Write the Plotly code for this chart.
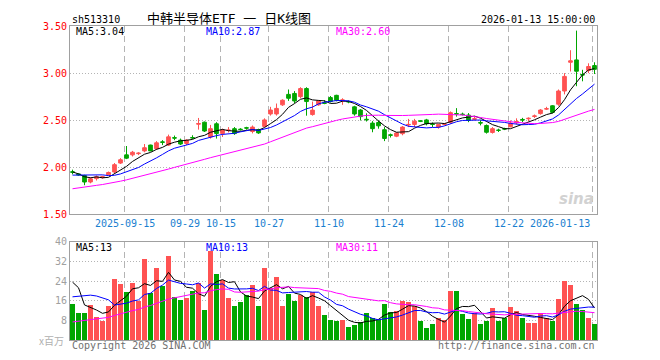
import plotly.graph_objects as go
import pandas as pd

# ---------------- data ----------------
dates = [
    "2025-09-02", "2025-09-03", "2025-09-04", "2025-09-05", "2025-09-08", "2025-09-09", "2025-09-10",
    "2025-09-11", "2025-09-12", "2025-09-15", "2025-09-16", "2025-09-17", "2025-09-18", "2025-09-19",
    "2025-09-22", "2025-09-23", "2025-09-24", "2025-09-25", "2025-09-26", "2025-09-29", "2025-09-30",
    "2025-10-09", "2025-10-10", "2025-10-13", "2025-10-14", "2025-10-15", "2025-10-16", "2025-10-17",
    "2025-10-20", "2025-10-21", "2025-10-22", "2025-10-23", "2025-10-24", "2025-10-27", "2025-10-28",
    "2025-10-29", "2025-10-30", "2025-10-31", "2025-11-03", "2025-11-04", "2025-11-05", "2025-11-06",
    "2025-11-07", "2025-11-10", "2025-11-11", "2025-11-12", "2025-11-13", "2025-11-14", "2025-11-17",
    "2025-11-18", "2025-11-19", "2025-11-20", "2025-11-21", "2025-11-24", "2025-11-25", "2025-11-26",
    "2025-11-27", "2025-11-28", "2025-12-01", "2025-12-02", "2025-12-03", "2025-12-04", "2025-12-05",
    "2025-12-08", "2025-12-09", "2025-12-10", "2025-12-11", "2025-12-12", "2025-12-15", "2025-12-16",
    "2025-12-17", "2025-12-18", "2025-12-19", "2025-12-22", "2025-12-23", "2025-12-24", "2025-12-25",
    "2025-12-26", "2025-12-29", "2025-12-30", "2025-12-31", "2026-01-05", "2026-01-06", "2026-01-07",
    "2026-01-08", "2026-01-09", "2026-01-12", "2026-01-13",
]

open_ = [
    1.952, 1.930, 1.913, 1.844, 1.880, 1.890, 1.920, 1.950, 2.045, 2.132,
    2.132, 2.145, 2.174, 2.236, 2.198, 2.270, 2.236, 2.315, 2.288, 2.253,
    2.316, 2.458, 2.479, 2.322, 2.462, 2.358, 2.390, 2.410, 2.405, 2.420,
    2.380, 2.400, 2.434, 2.566, 2.566, 2.663, 2.774, 2.784, 2.750, 2.836,
    2.560, 2.663, 2.685, 2.740, 2.764, 2.710, 2.700, 2.642, 2.608, 2.510,
    2.469, 2.476, 2.399, 2.345, 2.330, 2.357, 2.450, 2.455, 2.493, 2.503,
    2.460, 2.427, 2.455, 2.478, 2.570, 2.565, 2.555, 2.510, 2.475, 2.444,
    2.370, 2.395, 2.410, 2.430, 2.472, 2.508, 2.515, 2.540, 2.570, 2.618,
    2.653, 2.670, 2.810, 3.115, 3.140, 2.985, 3.028, 3.080,
]
high = [
    1.975, 1.935, 1.920, 1.892, 1.913, 1.910, 1.955, 2.045, 2.097, 2.226,
    2.174, 2.160, 2.247, 2.240, 2.278, 2.288, 2.347, 2.337, 2.305, 2.298,
    2.340, 2.524, 2.486, 2.450, 2.479, 2.410, 2.427, 2.427, 2.415, 2.430,
    2.444, 2.410, 2.520, 2.642, 2.677, 2.722, 2.826, 2.809, 2.850, 2.850,
    2.698, 2.712, 2.712, 2.757, 2.770, 2.733, 2.710, 2.653, 2.618, 2.573,
    2.490, 2.497, 2.427, 2.358, 2.370, 2.437, 2.514, 2.514, 2.500, 2.514,
    2.476, 2.462, 2.470, 2.593, 2.628, 2.580, 2.576, 2.540, 2.500, 2.455,
    2.427, 2.410, 2.420, 2.497, 2.520, 2.525, 2.530, 2.560, 2.618, 2.642,
    2.660, 2.826, 3.000, 3.243, 3.451, 3.035, 3.104, 3.115,
]
low = [
    1.925, 1.910, 1.810, 1.830, 1.860, 1.880, 1.915, 1.935, 2.035, 2.087,
    2.115, 2.130, 2.160, 2.170, 2.184, 2.236, 2.226, 2.288, 2.236, 2.236,
    2.300, 2.400, 2.375, 2.305, 2.305, 2.322, 2.370, 2.345, 2.390, 2.400,
    2.360, 2.355, 2.427, 2.549, 2.549, 2.652, 2.705, 2.680, 2.733, 2.548,
    2.548, 2.653, 2.670, 2.687, 2.700, 2.663, 2.680, 2.548, 2.497, 2.486,
    2.372, 2.410, 2.278, 2.316, 2.320, 2.340, 2.427, 2.427, 2.480, 2.445,
    2.427, 2.410, 2.445, 2.462, 2.538, 2.550, 2.479, 2.500, 2.445, 2.358,
    2.358, 2.375, 2.395, 2.425, 2.455, 2.480, 2.490, 2.524, 2.559, 2.608,
    2.573, 2.653, 2.774, 3.017, 2.861, 2.913, 3.000, 2.990,
]
close = [
    1.948, 1.920, 1.844, 1.878, 1.900, 1.900, 1.945, 2.028, 2.080, 2.097,
    2.160, 2.150, 2.208, 2.174, 2.260, 2.265, 2.323, 2.310, 2.247, 2.288,
    2.312, 2.464, 2.385, 2.410, 2.358, 2.395, 2.395, 2.358, 2.400, 2.416,
    2.427, 2.365, 2.503, 2.608, 2.625, 2.712, 2.733, 2.704, 2.836, 2.698,
    2.607, 2.705, 2.680, 2.698, 2.712, 2.715, 2.695, 2.566, 2.538, 2.505,
    2.410, 2.440, 2.306, 2.340, 2.364, 2.427, 2.455, 2.490, 2.489, 2.462,
    2.455, 2.455, 2.460, 2.580, 2.566, 2.560, 2.497, 2.515, 2.470, 2.372,
    2.410, 2.392, 2.406, 2.469, 2.486, 2.503, 2.520, 2.545, 2.608, 2.622,
    2.583, 2.810, 2.965, 3.130, 3.020, 2.980, 3.070, 3.040,
]
# volume, x 百万
volume = [
    14.7, 11.2, 11.2, 14.4, 9.6, 8.0, 14.0, 24.8, 22.8, 19.6,
    23.2, 16.0, 33.2, 19.2, 29.2, 21.9, 34.4, 17.6, 16.4, 17.2,
    20.0, 23.2, 12.4, 36.4, 26.8, 24.4, 17.2, 14.0, 15.6, 18.4,
    22.4, 14.0, 29.6, 21.2, 25.6, 14.0, 18.8, 16.0, 18.4, 17.6,
    19.6, 14.0, 10.4, 8.4, 8.0, 8.4, 5.2, 6.0, 7.2, 11.2,
    9.2, 8.4, 14.8, 11.6, 12.0, 16.0, 15.6, 14.0, 7.6, 4.8,
    6.4, 9.2, 8.4, 20.0, 20.0, 10.8, 8.8, 11.2, 6.4, 7.6,
    13.2, 8.0, 9.2, 13.6, 12.0, 9.2, 6.8, 6.8, 11.2, 9.2,
    7.6, 16.8, 24.0, 22.4, 14.8, 12.4, 9.2, 6.4,
]
# sessions before the visible window (only feed the moving averages)
prior_close = [
    1.60, 1.61, 1.62, 1.63, 1.64, 1.65, 1.66, 1.67, 1.68, 1.69,
    1.71, 1.72, 1.73, 1.74, 1.75, 1.76, 1.77, 1.78, 1.79, 1.80,
    1.92, 1.85, 1.88, 1.88, 1.885, 2.025, 1.994, 1.933, 1.855,
]
prior_volume = [
    2.0, 2.0, 2.0, 2.0, 2.0, 2.0, 2.0, 2.0, 2.0, 2.0,
    2.0, 2.0, 2.0, 2.0, 2.0, 2.5, 2.5, 3.0, 3.0, 3.5,
    8.0, 10.0, 12.0, 13.0, 15.0, 22.7, 46.2, 19.4, 15.0,
]
tick_dates = ["2025-09-15", "2025-09-29", "2025-10-15", "2025-10-27", "2025-11-10",
              "2025-11-24", "2025-12-08", "2025-12-22", "2026-01-13"]
tick_text = ["2025-09-15", "09-29", "10-15", "10-27", "11-10",
             "11-24", "12-08", "12-22", "2026-01-13"]
price_ticks = [1.5, 2.0, 2.5, 3.0, 3.5]
vol_ticks = [8, 16, 24, 32, 40]
title_text = "中韩半导体ETF 一 日K线图"
code_text = "sh513310"
time_text = "2026-01-13 15:00:00"
ma_price_text = ["MA5:3.04", "MA10:2.87", "MA30:2.60"]
ma_vol_text = ["MA5:13", "MA10:13", "MA30:11"]

# ---------------- derived ----------------
n = len(dates)
xs = list(range(n))
cs = pd.Series(prior_close + close)
vs = pd.Series(prior_volume + volume)
k0 = len(prior_close)
ma_p = {w: cs.rolling(w).mean().iloc[k0:].tolist() for w in (5, 10, 30)}
ma_v = {w: vs.rolling(w).mean().iloc[k0:].tolist() for w in (5, 10, 30)}

RED = "#ff5252"
GREEN = "#00a600"
MA_COL = {5: "#000000", 10: "#0000ff", 30: "#ff00ff"}
FONT = "DejaVu Sans Mono"

# the page body has an 8px margin: the figure is sized/positioned to compensate
OFF = 8
W, H = 660 - OFF, 360 - OFF
L, T = 70 - OFF, 20 - OFF
R = W - (597 - OFF)
B = H - (340 - OFF)
PW, PH = W - L - R, H - T - B


def px(x):  # x in window pixels -> paper
    return (x - OFF - L) / PW


def py(y):  # y in window pixels -> paper
    return (H - B - (y - OFF)) / PH


fig = go.Figure()
fig.add_trace(go.Candlestick(
    x=xs, open=open_, high=high, low=low, close=close,
    increasing=dict(line=dict(color=RED, width=1), fillcolor=RED),
    decreasing=dict(line=dict(color=GREEN, width=1), fillcolor=GREEN),
    whiskerwidth=0, xaxis="x", yaxis="y", hoverinfo="skip",
))
for w in (5, 10, 30):
    fig.add_trace(go.Scatter(x=xs, y=ma_p[w], mode="lines",
                             line=dict(color=MA_COL[w], width=1),
                             xaxis="x", yaxis="y", hoverinfo="skip"))
vcol = [RED if c >= o else GREEN for o, c in zip(open_, close)]
fig.add_trace(go.Bar(x=xs, y=volume, marker=dict(color=vcol, line=dict(width=0)),
                     width=0.84, xaxis="x2", yaxis="y2", hoverinfo="skip"))
for w in (5, 10, 30):
    fig.add_trace(go.Scatter(x=xs, y=ma_v[w], mode="lines",
                             line=dict(color=MA_COL[w], width=1),
                             xaxis="x2", yaxis="y2", hoverinfo="skip"))

grid_x = [dates.index(d) - 0.3 for d in tick_dates]
xr = [-0.4167, n - 1 + 0.4167]
xcommon = dict(range=xr, showgrid=True, gridcolor="#b4b4b4", griddash="6px,4px",
               gridwidth=1, tickvals=grid_x, showticklabels=False, ticks="",
               showline=True, mirror=True, linecolor="#a0a0a0", linewidth=1,
               zeroline=False, fixedrange=True)
ycommon = dict(showgrid=True, gridcolor="#b4b4b4", griddash="1px,2px", gridwidth=1,
               showline=True, mirror=True, linecolor="#a0a0a0", linewidth=1,
               zeroline=False, ticks="", fixedrange=True, ticklabelstandoff=0)

fig.update_layout(
    width=W, height=H, margin=dict(l=L, r=R, t=T, b=B),
    paper_bgcolor="white", plot_bgcolor="white", showlegend=False,
    bargap=0, boxgap=0.12,
    xaxis=dict(**xcommon, anchor="y", rangeslider=dict(visible=False)),
    xaxis2=dict(**xcommon, anchor="y2"),
    yaxis=dict(**ycommon, domain=[py(212), 1], range=[1.5, 3.5], tickvals=price_ticks,
               ticktext=["%.2f" % v for v in price_ticks],
               tickfont=dict(family=FONT, size=10, color="#ff0000")),
    yaxis2=dict(**ycommon, domain=[0, py(240)], range=[0, 40], tickvals=vol_ticks,
                ticktext=[str(v) for v in vol_ticks],
                tickfont=dict(family=FONT, size=10, color="#a0a0a0")),
)

ann = []
for gx, t in zip(grid_x, tick_text):
    last = t == tick_text[-1]
    ann.append(dict(x=gx + (0.0 if not last else -0.2), y=py(221), xref="x", yref="paper",
                    text=t, showarrow=False, xanchor="right" if last else "center",
                    yanchor="middle",
                    font=dict(family=FONT, size=10, color="#1a7fd0")))
ann.append(dict(x=px(70), y=py(13), xref="paper", yref="paper", text=code_text,
                showarrow=False, xanchor="left", yanchor="middle",
                font=dict(family=FONT, size=10, color="#000")))
ann.append(dict(x=px(229), y=py(12), xref="paper", yref="paper", text=title_text,
                showarrow=False, xanchor="center", yanchor="middle",
                font=dict(family=FONT + ", Noto Sans CJK SC", size=13, color="#000")))
ann.append(dict(x=px(597), y=py(13), xref="paper", yref="paper", text=time_text,
                showarrow=False, xanchor="right", yanchor="middle",
                font=dict(family=FONT, size=10, color="#000")))
for t, xx, c in zip(ma_price_text, (74, 204, 334), (MA_COL[5], MA_COL[10], MA_COL[30])):
    ann.append(dict(x=px(xx), y=py(26), xref="paper", yref="paper", text=t,
                    showarrow=False, xanchor="left", yanchor="middle",
                    font=dict(family=FONT, size=10, color=c)))
for t, xx, c in zip(ma_vol_text, (74, 204, 334), (MA_COL[5], MA_COL[10], MA_COL[30])):
    ann.append(dict(x=px(xx), y=py(246), xref="paper", yref="paper", text=t,
                    showarrow=False, xanchor="left", yanchor="middle",
                    font=dict(family=FONT, size=10, color=c)))
ann.append(dict(x=px(66), y=py(340), xref="paper", yref="paper", text="x百万",
                showarrow=False, xanchor="right", yanchor="middle",
                font=dict(family="Noto Sans CJK SC", size=10, color="#b0b0b0")))
ann.append(dict(x=px(70), y=py(346), xref="paper", yref="paper", text="Copyright 2026 SINA.COM",
                showarrow=False, xanchor="left", yanchor="middle",
                font=dict(family=FONT, size=10, color="#707070")))
ann.append(dict(x=px(597), y=py(346), xref="paper", yref="paper", text="http://finance.sina.com.cn",
                showarrow=False, xanchor="right", yanchor="middle",
                font=dict(family=FONT, size=10, color="#707070")))
ann.append(dict(x=px(596), y=py(196), xref="paper", yref="paper", text="sina",
                showarrow=False, xanchor="right", yanchor="middle",
                font=dict(family="DejaVu Sans", size=15, color="#d2d2d2",
                          style="italic", weight="bold")))
fig.update_layout(annotations=ann)

fig.write_html("out.html")
